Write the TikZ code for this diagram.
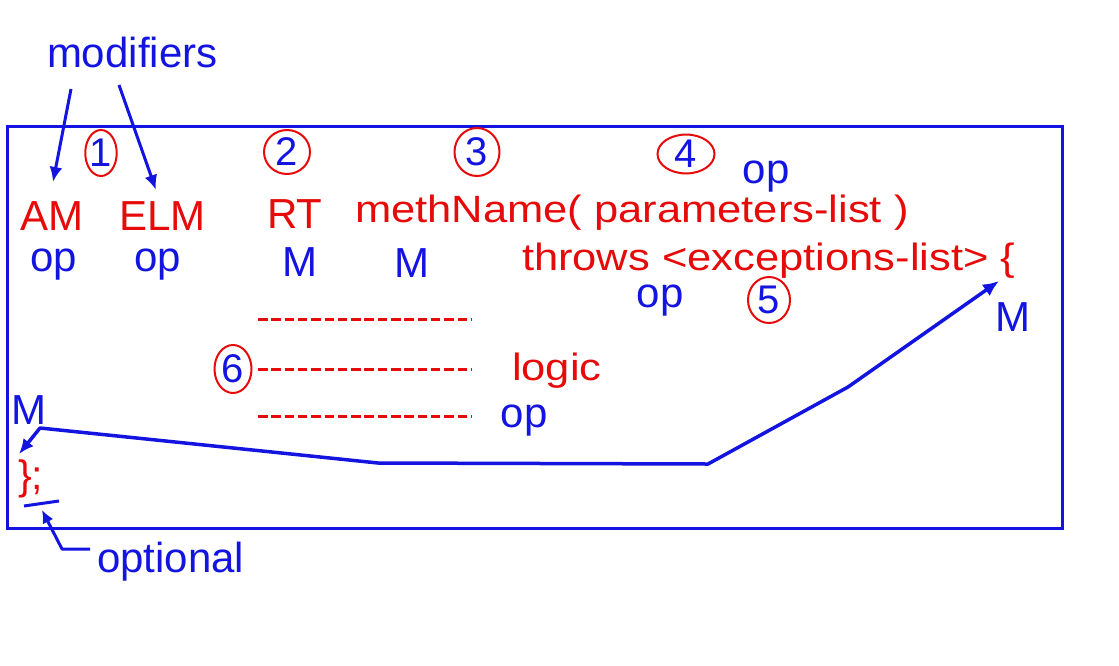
\documentclass[tikz,border=0pt]{standalone}
\usepackage{fontspec}
\setmainfont{Liberation Sans}
\newfontfamily\widefont[FakeStretch=1.145]{Liberation Sans}
\usetikzlibrary{arrows.meta,shapes.geometric}
\definecolor{myblue}{RGB}{20,20,225}
\definecolor{myred}{RGB}{230,10,10}
\begin{document}
\begin{tikzpicture}[x=1pt,y=-1pt,
  lbl/.style={inner sep=0pt, outer sep=0pt, anchor=base west},
  bigtxt/.style={lbl, font=\fontsize{42}{50}\selectfont},
  widetxt/.style={lbl, font=\widefont\fontsize{38}{44}\selectfont},
  bluetxt/.style={inner sep=0pt, outer sep=0pt, anchor=base, text=myblue, font=\fontsize{42}{48}\selectfont},
  ring/.style={ellipse, draw=myred, line width=2pt, inner sep=0pt, text=myblue, font=\fontsize{40}{44}\selectfont},
  conn/.style={draw=myblue, line width=3pt, line join=round},
  tip/.style={-{Latex[length=15pt,width=13pt]}},
  dline/.style={draw=myred, line width=3pt, dash pattern=on 9.5pt off 3.8pt}]
\useasboundingbox (0,0) rectangle (1119,665);
\fill[white] (0,0) rectangle (1119,665);
% frame
\draw[myblue, line width=3pt] (7,126) rectangle (1062,528);
% modifiers
\node[bigtxt, text=myblue] (mod) at (47,67) {modifiers};
\coordinate (m1s) at (71,89);
\coordinate (m2s) at (119,85);
% red keywords
\node[bigtxt, text=myred] (am) at (20,230) {AM};
\node[bigtxt, text=myred] (elm) at (119,230) {ELM};
\node[bigtxt, text=myred] (rt) at (267,228) {RT};
\node[widetxt, text=myred] (meth) at (355,222) {methName( parameters-list )};
\node[widetxt, text=myred] (thr) at (522,270) {throws <exceptions-list> \{};
\node[widetxt, text=myred] (logic) at (512,380) {logic};
\node[lbl, text=myred, font=\fontsize{41}{48}\selectfont] (close) at (18,489) {\};};
\node[bigtxt, text=myblue] (opt) at (97,572) {optional};
% numbered rings
\node[ring, minimum width=31pt, minimum height=46pt] (c1) at (101,153) {1};
\node[ring, minimum width=46pt, minimum height=44pt] (c2) at (287,152) {2};
\node[ring, minimum width=45pt, minimum height=48pt] (c3) at (477,152) {3};
\node[ring, minimum width=57pt, minimum height=38pt] (c4) at (686,154) {4};
\node[ring, minimum width=42pt, minimum height=46pt] (c5) at (769,300) {5};
\node[ring, minimum width=37pt, minimum height=48pt] (c6) at (233,369) {6};
% blue labels
\node[bluetxt] (op1) at (54,271) {op};
\node[bluetxt] (op2) at (158,271) {op};
\node[bluetxt] (mrt) at (300,276) {M};
\node[bluetxt] (mmeth) at (412,277) {M};
\node[bluetxt] (op3) at (766,183) {op};
\node[bluetxt] (op4) at (660,307) {op};
\node[bluetxt] (mr) at (1013,331) {M};
\node[bluetxt] (op5) at (524,427) {op};
\node[bluetxt] (ml) at (29,424) {M};
% dashed logic lines
\coordinate (d1a) at (258,319); \coordinate (d1b) at (472,319);
\coordinate (d2a) at (258,369); \coordinate (d2b) at (472,369);
\coordinate (d3a) at (258,416); \coordinate (d3b) at (472,416);
\draw[dline] (d1a) -- (d1b);
\draw[dline] (d2a) -- (d2b);
\draw[dline] (d3a) -- (d3b);
% modifier arrows
\coordinate (amtip) at (53,182);
\coordinate (elmtip) at (156,190);
\draw[conn, tip] (m1s) -- (amtip);
\draw[conn, tip] (m2s) -- (elmtip);
% big connector between braces
\coordinate (ltip) at (19,454);
\coordinate (p1) at (40,428);
\coordinate (p2) at (378,463);
\coordinate (p3) at (708,464);
\coordinate (p4) at (848,387);
\coordinate (rtip) at (999,281);
\draw[conn, line width=3.5pt, {Latex[length=15pt,width=13pt]}-{Latex[length=16pt,width=14pt]}] (ltip) -- (p1) -- (p2) -- (p3) -- (p4) -- (rtip);
% optional underline and arrow
\coordinate (u1) at (24,506);
\coordinate (u2) at (59,501);
\draw[conn] (u1) -- (u2);
\coordinate (o1) at (90,549);
\coordinate (o2) at (62,549);
\coordinate (otip) at (42,510);
\draw[conn, -{Latex[length=13pt,width=12pt]}] (o1) -- (o2) -- (otip);
\end{tikzpicture}
\end{document}
